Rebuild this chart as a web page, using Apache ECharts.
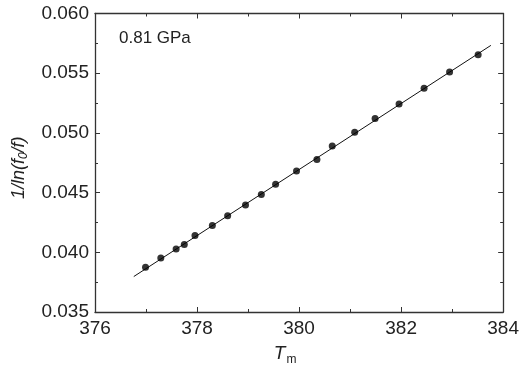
<!DOCTYPE html>
<html>
<head>
<meta charset="utf-8">
<script src="https://cdn.jsdelivr.net/npm/echarts@6/dist/echarts.min.js"></script>
<style>
  html, body { margin: 0; padding: 0; background: #fff; }
  #chart { width: 522px; height: 371px; }
</style>
</head>
<body>
<div id="chart"></div>
<script>
// measured points, Tm vs 1/ln(f0/f)
const tempValues = [376.99, 377.29, 377.59, 377.75, 377.96, 378.30, 378.60, 378.95, 379.26, 379.54,
  379.95, 380.35, 380.65, 381.09, 381.49, 381.96, 382.45, 382.95, 383.51];
const invLnValues = [0.03875, 0.03953, 0.04027, 0.04066, 0.04141, 0.04224, 0.04307, 0.04396, 0.04484, 0.04570,
  0.04681, 0.04778, 0.04891, 0.05005, 0.05121, 0.05243, 0.05373, 0.05511, 0.05655];
// linear fit endpoints
const fitX = [376.76, 383.76];
const fitY = [0.03797, 0.05733];
const pressureLabel = "0.81 GPa";

const chart = echarts.init(document.getElementById("chart"));
const axisColor = "#333";
const font = "Liberation Sans, Arial, sans-serif";

const frameAxis = {
  type: "value",
  axisLine: { show: true, lineStyle: { color: axisColor, width: 1.3 } },
  axisTick: { show: true, inside: true, length: 5, lineStyle: { color: axisColor } },
  minorTick: { show: true, splitNumber: 2, length: 3, lineStyle: { color: axisColor } },
  splitLine: { show: false },
  minorSplitLine: { show: false }
};

const option = {
  animation: false,
  grid: { left: 95, right: 15, top: 13.5, bottom: 56.5 },
  textStyle: { fontFamily: font },
  xAxis: [
    Object.assign({}, frameAxis, {
      min: 376, max: 384, interval: 2, position: "bottom",
      axisLabel: { color: "#222", fontSize: 19, margin: 7, fontFamily: font },
      name: "{i|T}{s|m}",
      nameLocation: "middle",
      nameGap: 30,
      nameTextStyle: {
        padding: [0, 28, 0, 0],
        rich: {
          i: { fontSize: 19, fontStyle: "italic", color: "#222", fontFamily: font },
          s: { fontSize: 12, color: "#222", fontFamily: font, padding: [12, 0, 0, 1] }
        }
      }
    }),
    Object.assign({}, frameAxis, {
      min: 376, max: 384, interval: 2, position: "top",
      axisLabel: { show: false }
    })
  ],
  yAxis: [
    Object.assign({}, frameAxis, {
      min: 0.035, max: 0.060, interval: 0.005, position: "left",
      axisLabel: {
        color: "#222", fontSize: 19, margin: 6, fontFamily: font,
        formatter: v => v.toFixed(3)
      },
      name: "{i|1/ln(f}{s|0}{i|/f)}",
      nameLocation: "middle",
      nameGap: 65,
      nameRotate: 90,
      nameTextStyle: {
        padding: [0, 10, 0, 0],
        rich: {
          i: { fontSize: 18, fontStyle: "italic", color: "#222", fontFamily: font },
          s: { fontSize: 12, fontStyle: "italic", color: "#222", fontFamily: font, padding: [10, 0, 0, 0] }
        }
      }
    }),
    Object.assign({}, frameAxis, {
      min: 0.035, max: 0.060, interval: 0.005, position: "right",
      axisLabel: { show: false }
    })
  ],
  graphic: [
    {
      type: "text",
      left: 119,
      top: 30,
      style: { text: pressureLabel, fontSize: 17, fill: "#222", fontFamily: font }
    }
  ],
  series: [
    {
      name: "fit",
      type: "line",
      data: fitX.map((x, i) => [x, fitY[i]]),
      showSymbol: false,
      lineStyle: { color: "#111", width: 1 },
      z: 2
    },
    {
      name: "data",
      type: "scatter",
      data: tempValues.map((x, i) => [x, invLnValues[i]]),
      symbol: "circle",
      symbolSize: 7,
      itemStyle: { color: "#000" },
      z: 3
    }
  ]
};
chart.setOption(option);
</script>
</body>
</html>
